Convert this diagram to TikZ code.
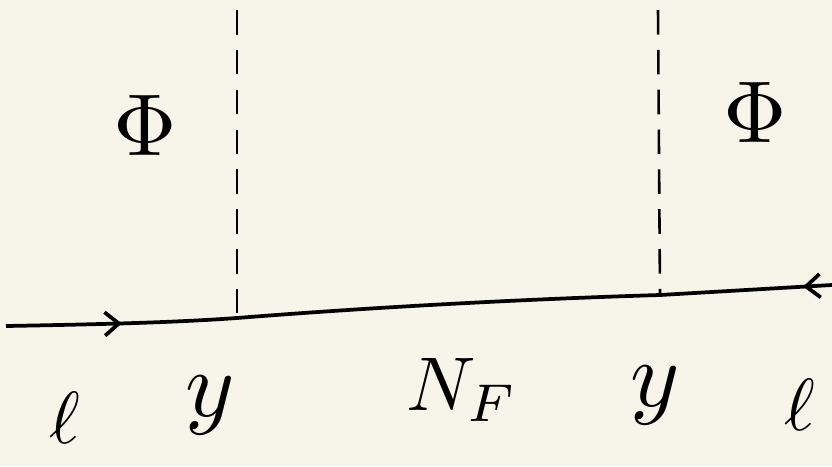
\documentclass[tikz,border=0pt]{standalone}
\definecolor{PaperCream}{HTML}{F7F5E9}
\usepackage{graphicx}
\usepackage{amsmath, amssymb}
\usetikzlibrary{positioning, arrows.meta, calc, decorations.markings}

\newcommand{\bigsign}[2]{\scalebox{#1}{$#2$}}

\tikzset{
  hand/.style={inner sep=0pt},
  cutline/.style={line width=2.2pt, dash pattern=on 21pt off 13pt},
  fermion/.style={line width=3.2pt, postaction={decorate}, decoration={markings,
      mark=at position 0.14 with {\arrow{Straight Barb[length=12pt, width=20pt, line width=3.2pt]}},
      mark=at position 0.965 with {\arrowreversed{Straight Barb[length=12pt, width=20pt, line width=3.2pt]}}}}
}

\begin{document}
\begin{tikzpicture}[x=0.03cm, y=-0.03cm]
  \fill[PaperCream] (0,0) rectangle (832,466);
  \useasboundingbox (0,0) rectangle (832,466);

  % points on the lepton line
  \coordinate (lin) at (6,326);
  \coordinate (vtxL) at (237,318);
  \coordinate (vtxR) at (660,295);
  \coordinate (lout) at (832,285);

  % cut lines above the vertices
  \coordinate (topL) at (237,10);
  \coordinate (topR) at (658,10);
  \draw[cutline] (topL) -- (vtxL);
  \draw[cutline] (topR) -- (vtxR);

  % lepton line
  \draw[fermion] (lin) .. controls (120,324) and (180,322) .. (vtxL)
    .. controls (400,305) and (560,298) .. (vtxR) -- (lout);

  % fields and labels
  \node[hand] (phiL) at (145,125) {\bigsign{7.5}{\Phi}};
  \node[hand] (phiR) at (755,112) {\bigsign{7.5}{\Phi}};
  \node[hand] (ellL) at (65,418) {\bigsign{6.3}{\ell}};
  \node[hand] (yL) at (210,405) {\bigsign{8}{y}};
  \node[hand] (nf) at (462,390) {\bigsign{6.5}{N_F}};
  \node[hand] (yR) at (655,395) {\bigsign{8}{y}};
  \node[hand] (ellR) at (800,405) {\bigsign{6.3}{\ell}};
\end{tikzpicture}
\end{document}
